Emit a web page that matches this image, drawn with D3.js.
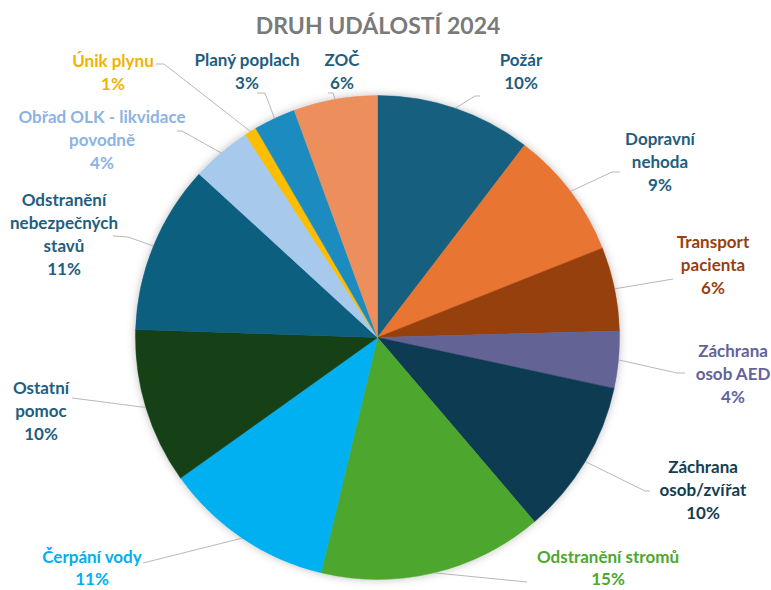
<!DOCTYPE html>
<html lang="cs">
<head>
<meta charset="utf-8">
<script src="https://cdn.jsdelivr.net/npm/d3@7"></script>
<style>
  body { margin: 0; background: #fff; }
  svg { font-family: Lato, "Open Sans", sans-serif; }
</style>
</head>
<body>
<div id="chart"></div>
<script>
// kategorie a podíly (v %), po směru hodinových ručiček od 12 h
const kategorie = [
  'Požár', 'Dopravní nehoda', 'Transport pacienta', 'Záchrana osob AED',
  'Záchrana osob/zvířat', 'Odstranění stromů', 'Čerpání vody', 'Ostatní pomoc',
  'Odstranění nebezpečných stavů', 'Obřad OLK - likvidace povodně', 'Únik plynu',
  'Planý poplach', 'ZOČ'
];
const hodnoty = [10.4, 8.6, 5.6, 3.8, 10.4, 15.0, 11.4, 10.4, 11.3, 4.0, 0.8, 2.8, 5.6];

// řádky popisků (jak jsou zalomené v grafu)
const popiskyRadky = [
  ['Požár'], ['Dopravní', 'nehoda'], ['Transport', 'pacienta'], ['Záchrana', 'osob AED'],
  ['Záchrana', 'osob/zvířat'], ['Odstranění stromů'], ['Čerpání vody'], ['Ostatní', 'pomoc'],
  ['Odstranění', 'nebezpečných', 'stavů'], ['Obřad OLK - likvidace', 'povodně'], ['Únik plynu'],
  ['Planý poplach'], ['ZOČ']
];

const barvy = [
  '#175e7f', '#e87433', '#963f11', '#636395', '#0e3a51', '#4ea72e', '#00b0f0',
  '#133f16', '#0a5e80', '#a7c9eb', '#fdbd00', '#1f8cc0', '#ec8f5d'
];
const barvyTextu = [
  '#1f5e80', '#1f5e80', '#983f11', '#63639a', '#133e52', '#4ea72e', '#00b0f0',
  '#1f5e80', '#1f5e80', '#8cb3e3', '#f0b400', '#1f5e80', '#1f5e80'
];

// rozložení popisků: střed textu (x, y první řádky) a konec vodicí čáry
const rozlozeni = [
  { x: 521, y: 60, cara: [[475, 96], [480, 96]] },
  { x: 660, y: 139, cara: [[612, 172], [620, 172]] },
  { x: 713, y: 242, cara: [[673, 279]] },
  { x: 733, y: 351, cara: [[677, 373], [685, 373]] },
  { x: 703, y: 467, cara: [[645, 491], [650, 491]] },
  { x: 608, y: 557, cara: [[527, 582]] },
  { x: 92, y: 557, cara: [[143, 563]] },
  { x: 41, y: 388, cara: [[72, 398]] },
  { x: 64, y: 200, cara: [[128, 237], [113, 236]] },
  { x: 102, y: 117, cara: [[182, 131], [177, 131]] },
  { x: 113, y: 61, cara: [[164, 64], [156, 64]] },
  { x: 247, y: 60, cara: [[265, 93], [257, 93]] },
  { x: 342, y: 60, cara: [[333, 93], [328, 93]] }
];

const width = 771, height = 590;
const cx = 377.5, cy = 337.5, r = 242;

const svg = d3.select('#chart').append('svg')
  .attr('width', width)
  .attr('height', height);

// jemný stín kolem koláče
const defs = svg.append('defs');
defs.append('filter')
  .attr('id', 'stin')
  .attr('x', '-10%').attr('y', '-10%')
  .attr('width', '120%').attr('height', '120%')
  .append('feDropShadow')
  .attr('dx', 0).attr('dy', 0)
  .attr('stdDeviation', 4)
  .attr('flood-color', '#000')
  .attr('flood-opacity', 0.25);

// titulek
svg.append('text')
  .attr('x', 378)
  .attr('y', 34)
  .attr('text-anchor', 'middle')
  .style('font-size', '23px')
  .style('font-weight', 700)
  .style('fill', '#7a7a7a')
  .text('DRUH UDÁLOSTÍ 2024');

const data = kategorie.map((k, i) => ({ k, v: hodnoty[i], i }));
const soucet = d3.sum(hodnoty);

const pie = d3.pie().value(d => d.v).sort(null);
const arcs = pie(data);
const arc = d3.arc().innerRadius(0).outerRadius(r);

const g = svg.append('g')
  .attr('transform', `translate(${cx},${cy})`);

g.append('g')
  .attr('filter', 'url(#stin)')
  .selectAll('path')
  .data(arcs)
  .join('path')
  .attr('d', arc)
  .attr('fill', d => barvy[d.data.i])
  .attr('stroke', d => barvy[d.data.i])
  .attr('stroke-width', 0.5);

// vodicí čáry: začínají na okraji výseče v polovině úhlu
const line = d3.line();
svg.append('g')
  .selectAll('path')
  .data(arcs)
  .join('path')
  .attr('fill', 'none')
  .attr('stroke', '#a6a6a6')
  .attr('stroke-width', 0.8)
  .attr('d', d => {
    const a = (d.startAngle + d.endAngle) / 2;
    const start = [cx + r * Math.sin(a), cy - r * Math.cos(a)];
    return line([start, ...rozlozeni[d.data.i].cara]);
  });

// popisky
const fmt = v => Math.round(v / soucet * 100) + '%';
const lh = 23;
const popisky = svg.append('g')
  .selectAll('text')
  .data(arcs)
  .join('text')
  .attr('text-anchor', 'middle')
  .style('font-size', '17px')
  .style('font-weight', 700)
  .style('fill', d => barvyTextu[d.data.i]);

popisky.each(function(d) {
  const t = d3.select(this);
  const pos = rozlozeni[d.data.i];
  const radky = [...popiskyRadky[d.data.i], fmt(d.data.v)];
  radky.forEach((txt, j) => {
    t.append('tspan')
      .attr('x', pos.x)
      .attr('y', pos.y + j * (radky.length === 2 && pos.y > 500 ? 22 : lh))
      .attr('dy', '0.35em')
      .text(txt);
  });
});
</script>
</body>
</html>
